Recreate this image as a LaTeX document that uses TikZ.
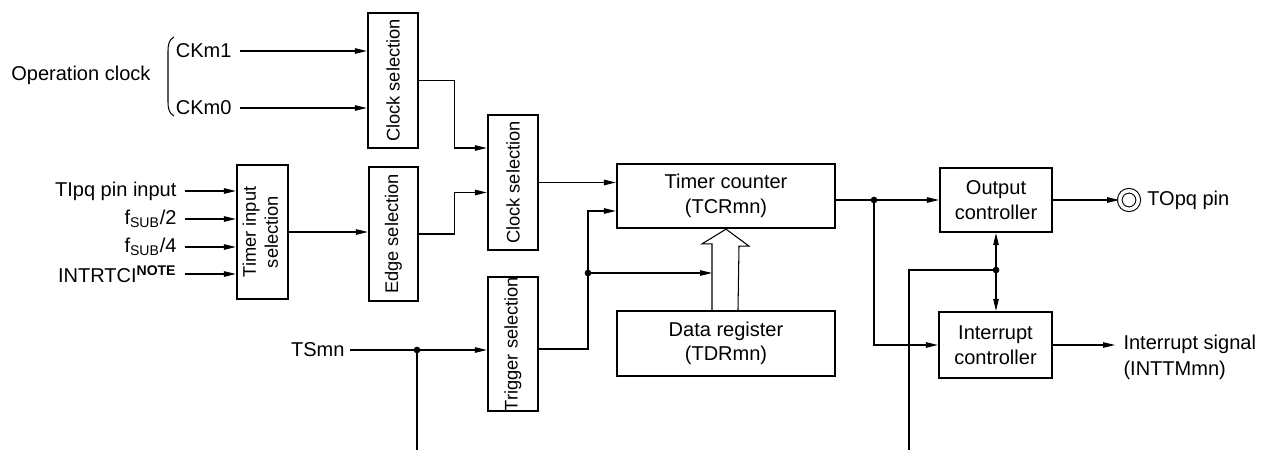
\documentclass[tikz,border=0pt]{standalone}
\usepackage{fontspec}
\setmainfont{Liberation Sans}
\usetikzlibrary{arrows.meta,calc}

\begin{document}
\begin{tikzpicture}[x=0.02cm,y=-0.02cm,line width=0.6pt,
  blk/.style={draw,line width=1.3pt,inner sep=0pt,align=center,font=\fontsize{11.4}{14}\selectfont},
  vblk/.style={draw,line width=1.3pt,inner sep=0pt,font=\fontsize{10.4}{12.5}\selectfont},
  lbl/.style={inner xsep=0.16cm,inner ysep=1pt,font=\fontsize{11.4}{14.8}\selectfont},
  arr/.style={-{Triangle[length=2.4mm,width=1.1mm]}},
  biarr/.style={{Triangle[length=2.4mm,width=1.1mm]}-{Triangle[length=2.4mm,width=1.1mm]}}]
  \useasboundingbox (0,0) rectangle (1261,450);

  % operation clock inputs
  \node[lbl,anchor=east] (opclk) at (159,75) {Operation clock};
  \draw (174,37) .. controls (169,40) and (168,44) .. (168,52) -- (168,101) .. controls (168,109) and (169,113) .. (174,116);
  \node[lbl,anchor=east] (ckm1) at (240,51) {CKm1};
  \node[lbl,anchor=east] (ckm0) at (240,108) {CKm0};

  % timer inputs
  \node[lbl,anchor=east] (tipq) at (185,191) {TIpq pin input};
  \node[lbl,anchor=east] (fsub2) at (185,219) {f\textsubscript{SUB}/2};
  \node[lbl,anchor=east] (fsub4) at (185,247) {f\textsubscript{SUB}/4};
  \node[lbl,anchor=east] (intrtc) at (185,274) {INTRTCI\textsuperscript{\bfseries NOTE}};
  \node[lbl,anchor=east,inner xsep=0.1cm] (tsmn) at (350,350) {TSmn};

  % selection blocks
  \node[vblk,minimum width=1.0cm,minimum height=2.7cm] (csel1) at (393,80.5) {\rotatebox{90}{Clock selection}};
  \node[vblk,minimum width=1.02cm,minimum height=2.68cm] (tisel) at (262.5,232) {\rotatebox{90}{\begin{tabular}{@{}c@{}}Timer input\\selection\end{tabular}}};
  \node[vblk,minimum width=0.98cm,minimum height=2.68cm] (esel) at (393.5,234) {\rotatebox{90}{Edge selection}};
  \node[vblk,minimum width=1.0cm,minimum height=2.7cm] (csel2) at (513,182.5) {\rotatebox{90}{Clock selection}};
  \node[vblk,minimum width=1.0cm,minimum height=2.64cm] (tsel) at (513,344) {\rotatebox{90}{Trigger selection}};

  % counter and register
  \node[blk,minimum width=4.36cm,minimum height=1.28cm] (tcr) at (726,196) {Timer counter\\(TCRmn)};
  \node[blk,minimum width=4.36cm,minimum height=1.3cm] (tdr) at (726,343.5) {Data register\\(TDRmn)};

  % controllers
  \node[blk,minimum width=2.24cm,minimum height=1.28cm] (octrl) at (996,200) {Output\\controller};
  \node[blk,minimum width=2.26cm,minimum height=1.32cm] (ictrl) at (995.5,345) {Interrupt\\controller};
  \node[circle,draw,double,double distance=2pt,minimum size=0.37cm,inner sep=0pt] (pin) at (1129,200) {};
  \node[lbl,anchor=west] (topq) at (pin.east) {TOpq pin};
  \node[lbl,anchor=west,align=left] (intsig) at (1115,357) {Interrupt signal\\(INTTMmn)};

  % junctions and free ends
  \coordinate (jts) at (417,350);
  \coordinate (jtrg) at (588,273);
  \coordinate (jcnt) at (874,200);
  \coordinate (jctl) at (996,270);
  \coordinate (tsbot) at (417,450);
  \coordinate (ctlbot) at (909,450);
  \coordinate (shaft) at (712,273);

  % input arrows
  \draw[arr] (ckm1.east) -- (ckm1.east -| csel1.west);
  \draw[arr] (ckm0.east) -- (ckm0.east -| csel1.west);
  \foreach \n in {tipq,fsub2,fsub4,intrtc}
    \draw[arr] (\n.east) -- (\n.east -| tisel.west);
  \draw[arr] (tisel.east) -- (tisel.east -| esel.west);
  \draw[arr] (csel1.east) -- ++(35,0) |- ($(csel2.west)+(0,-34.5)$);
  \draw[arr] (esel.east) -- ++(35,0) |- ($(csel2.west)+(0,10)$);
  \draw[arr] (csel2.east) -- (csel2.east -| tcr.west);

  % trigger path
  \draw[arr] (tsmn.east) -- (tsmn.east -| tsel.west);
  \draw (jts) -- (tsbot);
  \draw[arr] ($(tsel.east)+(0,5)$) -| (jtrg) |- ($(tcr.west)+(0,15)$);
  \draw[arr] (jtrg) -- (shaft);

  % hollow transfer arrow
  \draw ($(tdr.north)+(-14,0)$) -- ++(0,-66) -- ++(-10,0) -- (tcr.south) -- ($(tcr.south)+(23,17)$) -- ++(-10,0) -- ($(tdr.north)+(12,0)$);

  % outputs
  \draw[arr] (tcr.east |- octrl.west) -- (octrl.west);
  \draw[arr] (jcnt) |- (ictrl.west);
  \draw[arr] (octrl.east) -- (pin.west);
  \draw[arr] (ictrl.east) -- (ictrl.east -| intsig.west);
  \draw[biarr] (octrl.south) -- (octrl.south |- ictrl.north);
  \draw (jctl) -| (ctlbot);

  \foreach \j in {jts,jtrg,jcnt,jctl}
    \fill (\j) circle (1.9pt);
\end{tikzpicture}
\end{document}
